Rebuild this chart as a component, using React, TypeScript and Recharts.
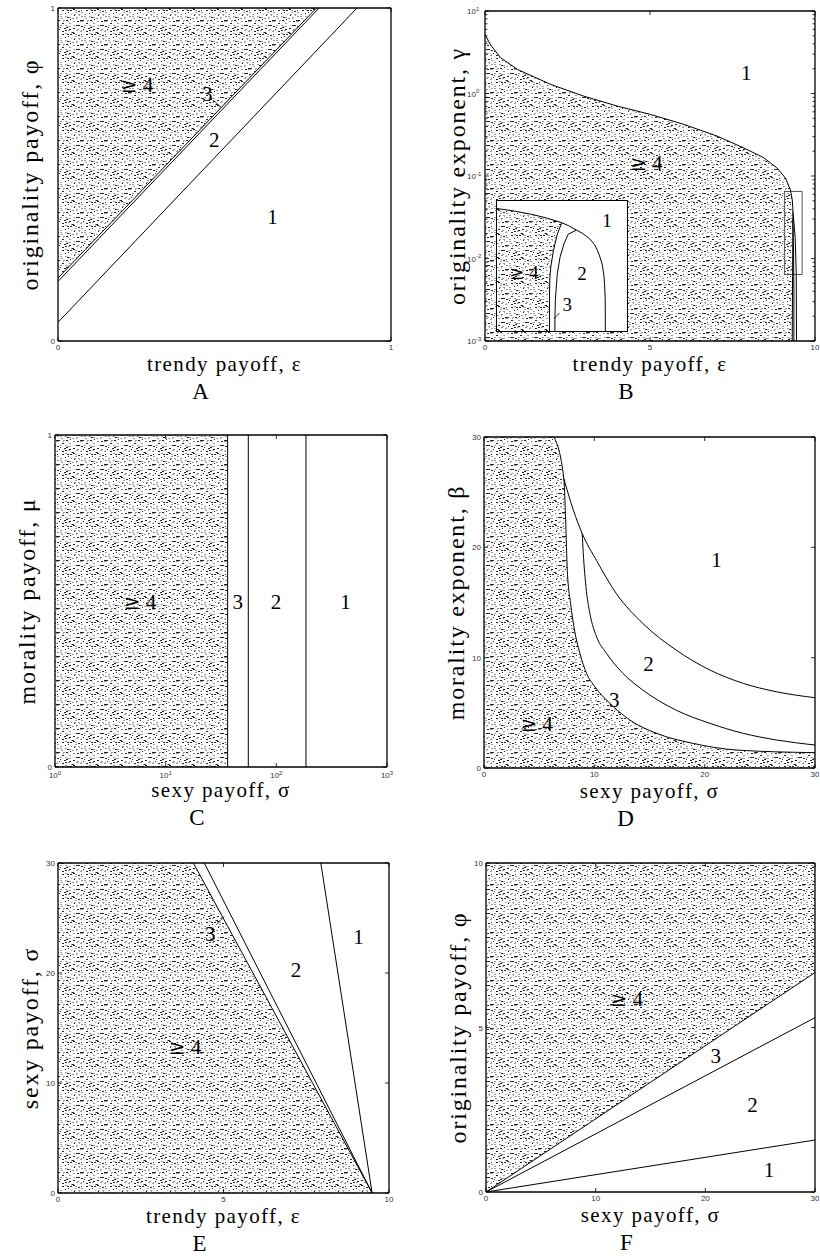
import React from "react";
import {
  ComposedChart, Area, Line, XAxis, YAxis, Label,
  ReferenceDot, ReferenceLine, ReferenceArea,
} from "recharts";

type Pt = { x: number; y: number };
type Note = { x: number; y: number; text: string };

// ---- A: trendy payoff vs originality payoff
const aTicks = [0, 1];
const aEdge4: Pt[] = [{ x: 0, y: 0.189 }, { x: 0.776, y: 1 }];
const aEdge3: Pt[] = [{ x: 0, y: 0.179 }, { x: 0.784, y: 1 }];
const aEdge2: Pt[] = [{ x: 0, y: 0.056 }, { x: 0.898, y: 1 }];
const aLeader: Pt[] = [{ x: 0.466, y: 0.724 }, { x: 0.489, y: 0.702 }];
const aNotes: Note[] = [
  { x: 0.237, y: 0.769, text: "≥ 4" },
  { x: 0.448, y: 0.744, text: "3" },
  { x: 0.469, y: 0.606, text: "2" },
  { x: 0.644, y: 0.373, text: "1" },
];

// ---- B: trendy payoff vs originality exponent (log)
const bXTicks = [0, 5, 10];
const bYDecades = [0.001, 0.01, 0.1, 1, 10];
const logSteps = [1, 2, 3, 4, 5, 6, 7, 8, 9];
const bYMinor = bYDecades
  .slice(0, -1)
  .flatMap((d) => logSteps.map((k) => +(d * k).toPrecision(3)))
  .concat(10);
const bEdge4: Pt[] = [
  { x: 0, y: 5.2 }, { x: 0.17, y: 3.87 }, { x: 0.47, y: 2.72 }, { x: 0.98, y: 1.96 },
  { x: 1.99, y: 1.29 }, { x: 2.99, y: 0.93 }, { x: 4.0, y: 0.705 }, { x: 5.01, y: 0.558 },
  { x: 6.02, y: 0.423 }, { x: 7.03, y: 0.305 }, { x: 7.83, y: 0.22 }, { x: 8.44, y: 0.167 },
  { x: 8.84, y: 0.126 }, { x: 9.1, y: 0.095 }, { x: 9.25, y: 0.069 }, { x: 9.31, y: 0.052 },
  { x: 9.33, y: 0.04 }, { x: 9.33, y: 0.02 }, { x: 9.32, y: 0.006 }, { x: 9.31, y: 0.001 },
];
const bEdge3: Pt[] = [{ x: 9.33, y: 0.03 }, { x: 9.35, y: 0.012 }, { x: 9.36, y: 0.004 }, { x: 9.36, y: 0.001 }];
const bEdge2: Pt[] = [{ x: 9.335, y: 0.036 }, { x: 9.4, y: 0.018 }, { x: 9.43, y: 0.007 }, { x: 9.44, y: 0.001 }];
const bZoom = { x1: 9.08, x2: 9.61, y1: 0.0064, y2: 0.065 };
const bNotes: Note[] = [
  { x: 7.92, y: 1.77, text: "1" },
  { x: 4.89, y: 0.144, text: "≥ 4" },
];

// ---- B inset (magnified corner, relative units)
const insetEdgeTop: Pt[] = [
  { x: 0, y: 94.2 }, { x: 12, y: 92.5 }, { x: 25.8, y: 89.9 }, { x: 38, y: 87 },
  { x: 49.8, y: 83.3 }, { x: 55.5, y: 80.8 }, { x: 61.1, y: 77.6 }, { x: 66, y: 75 },
  { x: 71.2, y: 71 }, { x: 75, y: 66.5 }, { x: 77.3, y: 61.9 }, { x: 79.5, y: 56 },
  { x: 81.1, y: 50.5 }, { x: 82.2, y: 43 }, { x: 82.8, y: 35 }, { x: 83.2, y: 25 },
  { x: 83.3, y: 16 }, { x: 83.3, y: 0 },
];
const insetEdge4: Pt[] = [
  { x: 40.4, y: 0 }, { x: 40.4, y: 30 }, { x: 40.7, y: 42 }, { x: 41.4, y: 49.2 },
  { x: 43.4, y: 61.9 }, { x: 46.4, y: 74.5 }, { x: 49.8, y: 83.3 },
];
const insetEdge3: Pt[] = [
  { x: 44.5, y: 0 }, { x: 44.6, y: 12 }, { x: 44.9, y: 24 }, { x: 46.4, y: 44.2 },
  { x: 48.5, y: 56.8 }, { x: 51.5, y: 67 }, { x: 54.8, y: 74.5 }, { x: 61.1, y: 77.6 },
];
const insetLeader: Pt[] = [{ x: 48, y: 13.9 }, { x: 43.9, y: 9.4 }];
const insetNotes: Note[] = [
  { x: 84.6, y: 85.2, text: "1" },
  { x: 20.7, y: 45.5, text: "≥ 4" },
  { x: 65.4, y: 44.7, text: "2" },
  { x: 54, y: 20.8, text: "3" },
];

// ---- C: sexy payoff (log) vs morality payoff
const cXTicks = [1, 10, 100, 1000];
const cYTicks = [0, 1];
const cEdges = [36.3, 55.8, 185.3];
const cNotes: Note[] = [
  { x: 5.86, y: 0.498, text: "≥ 4" },
  { x: 44.7, y: 0.498, text: "3" },
  { x: 99.2, y: 0.498, text: "2" },
  { x: 422.6, y: 0.498, text: "1" },
];

// ---- D: sexy payoff vs morality exponent
const dTicks = [0, 10, 20, 30];
const dEdge4: Pt[] = [
  { x: 6.34, y: 30 }, { x: 7.24, y: 26.2 }, { x: 7.4, y: 22.5 }, { x: 7.55, y: 17.9 },
  { x: 7.85, y: 14.9 }, { x: 8.15, y: 12.8 }, { x: 8.69, y: 10.4 }, { x: 9.3, y: 8.57 },
  { x: 10.05, y: 7.36 }, { x: 11.41, y: 5.86 }, { x: 13.22, y: 4.35 }, { x: 15.64, y: 3.14 },
  { x: 18.96, y: 2.23 }, { x: 22.88, y: 1.63 }, { x: 30, y: 1.39 },
];
const dEdge3: Pt[] = [
  { x: 8.9, y: 21.25 }, { x: 9.0, y: 19.44 }, { x: 9.24, y: 16.42 }, { x: 9.6, y: 14.0 },
  { x: 10.2, y: 11.9 }, { x: 11.1, y: 10.4 }, { x: 12.6, y: 8.57 }, { x: 14.4, y: 7.06 },
  { x: 17.4, y: 5.25 }, { x: 20.5, y: 4.04 }, { x: 23.5, y: 3.14 }, { x: 26.5, y: 2.54 },
  { x: 30, y: 2.08 },
];
const dEdge2: Pt[] = [
  { x: 7.24, y: 26.2 }, { x: 8.09, y: 23.4 }, { x: 8.9, y: 21.25 },
  { x: 10.2, y: 18.8 }, { x: 12.0, y: 15.8 }, { x: 14.4, y: 13.1 }, { x: 17.4, y: 10.7 },
  { x: 20.5, y: 8.87 }, { x: 23.5, y: 7.67 }, { x: 26.5, y: 6.91 }, { x: 30, y: 6.37 },
];
const dNotes: Note[] = [
  { x: 21.07, y: 18.9, text: "1" },
  { x: 14.9, y: 9.48, text: "2" },
  { x: 11.8, y: 6.16, text: "3" },
  { x: 4.77, y: 4.04, text: "≥ 4" },
];

// ---- E: trendy payoff vs sexy payoff
const eXTicks = [0, 5, 10];
const eYTicks = [0, 10, 20, 30];
const eEdge4: Pt[] = [{ x: 4.09, y: 30 }, { x: 9.49, y: 0 }];
const eEdge3: Pt[] = [{ x: 4.42, y: 30 }, { x: 9.49, y: 0 }];
const eEdge2: Pt[] = [{ x: 7.94, y: 30 }, { x: 9.49, y: 0 }];
const eLeader: Pt[] = [{ x: 4.78, y: 24.39 }, { x: 5.02, y: 25.14 }];
const eNotes: Note[] = [
  { x: 4.6, y: 23.6, text: "3" },
  { x: 7.19, y: 20.3, text: "2" },
  { x: 9.08, y: 23.3, text: "1" },
  { x: 3.84, y: 13.3, text: "≥ 4" },
];

// ---- F: sexy payoff vs originality payoff
const fXTicks = [0, 10, 20, 30];
const fYTicks = [0, 5, 10];
const fEdge4: Pt[] = [{ x: 0, y: 0 }, { x: 30, y: 6.67 }];
const fEdge3: Pt[] = [{ x: 0, y: 0 }, { x: 30, y: 5.3 }];
const fEdge2: Pt[] = [{ x: 0, y: 0 }, { x: 30, y: 1.58 }];
const fNotes: Note[] = [
  { x: 12.83, y: 5.89, text: "≥ 4" },
  { x: 20.96, y: 4.14, text: "3" },
  { x: 24.3, y: 2.65, text: "2" },
  { x: 25.8, y: 0.69, text: "1" },
];

const SERIF = "'Liberation Serif', 'Times New Roman', serif";
const SANS = "'Liberation Sans', Arial, sans-serif";
const BORDER = { stroke: "#000", strokeWidth: 1.3 };
const TICK_STYLE = { fontFamily: SANS, fontSize: 8, fill: "#333" };

// speckle texture: one short dash jittered inside every 3x3 cell of the tile
const TILE = 24;
const CELL = 3;
const stippleDashes = (() => {
  let s = 90731;
  const next = () => (s = (s * 16807) % 2147483647) / 2147483647;
  const out: { x: number; y: number; w: number; c: string }[] = [];
  for (let cy = 0; cy < TILE; cy += CELL) {
    for (let cx = 0; cx < TILE; cx += CELL) {
      out.push({
        x: cx + Math.floor(next() * CELL),
        y: cy + Math.floor(next() * CELL),
        w: next() < 0.7 ? 2 : 1,
        c: next() < 0.4 ? "#222" : "#9a9a9a",
      });
    }
  }
  return out;
})();

function Stipple({ id }: { id: string }) {
  return (
    <pattern id={id} patternUnits="userSpaceOnUse" width={TILE} height={TILE}>
      <rect width={TILE} height={TILE} fill="#fff" />
      {stippleDashes.map((d, i) => (
        <rect key={i} x={d.x} y={d.y} width={d.w} height={1} fill={d.c} />
      ))}
    </pattern>
  );
}

const isDecade = (v: number) => {
  const e = Math.log10(v);
  return Math.abs(e - Math.round(e)) < 1e-6;
};
const expOf = (v: number) => Math.round(Math.log10(v));

function BottomTick({ x, y, payload, log }: any) {
  const v = payload.value as number;
  return (
    <g>
      <line x1={x} x2={x} y1={y} y2={y - 4} stroke="#000" strokeWidth={0.8} />
      {log ? (
        <text x={x} y={y + 11} textAnchor="middle" style={TICK_STYLE}>
          10<tspan dy={-3.5} fontSize={6}>{expOf(v)}</tspan>
        </text>
      ) : (
        <text x={x} y={y + 9} textAnchor="middle" style={TICK_STYLE}>{v}</text>
      )}
    </g>
  );
}

function LeftTick({ x, y, payload, log }: any) {
  const v = payload.value as number;
  const major = !log || isDecade(v);
  return (
    <g>
      <line x1={x} x2={x + (major ? 4 : 2.5)} y1={y} y2={y} stroke="#000" strokeWidth={0.8} />
      {major &&
        (log ? (
          <text x={x - 18} y={y + 3} textAnchor="start" style={TICK_STYLE}>
            10<tspan dy={-3.5} fontSize={6}>{expOf(v)}</tspan>
          </text>
        ) : (
          <text x={x - 3} y={y + 3} textAnchor="end" style={TICK_STYLE}>{v}</text>
        ))}
    </g>
  );
}

function TopTick({ x, y }: any) {
  return <line x1={x} x2={x} y1={y} y2={y + 4} stroke="#000" strokeWidth={0.8} />;
}

function RightTick({ x, y, payload, log }: any) {
  const major = !log || isDecade(payload.value);
  return <line x1={x} x2={x - (major ? 4 : 2.5)} y1={y} y2={y} stroke="#000" strokeWidth={0.8} />;
}

function XTitle({ viewBox, text, letter }: any) {
  const cx = viewBox.x + viewBox.width / 2;
  return (
    <g>
      <text x={cx} y={viewBox.y + 30} textAnchor="middle" fill="#000"
        style={{ fontFamily: SERIF, fontSize: 21, letterSpacing: 1.4 }}>{text}</text>
      <text x={cx - 24} y={viewBox.y + 58} textAnchor="middle" fill="#000"
        style={{ fontFamily: SERIF, fontSize: 23 }}>{letter}</text>
    </g>
  );
}

function YTitle({ viewBox, text }: any) {
  const tx = viewBox.x + viewBox.width - 20;
  const ty = viewBox.y + viewBox.height / 2;
  return (
    <text x={tx} y={ty} transform={`rotate(-90 ${tx} ${ty})`} textAnchor="middle" fill="#000"
      style={{ fontFamily: SERIF, fontSize: 24, letterSpacing: 1.8 }}>{text}</text>
  );
}

// region numbers; the "≥" gets a larger glyph so it sits level with the digit
const noteMarks = (notes: Note[], size = 21) =>
  notes.map((n, i) => (
    <ReferenceDot
      key={`note-${i}`}
      x={n.x}
      y={n.y}
      r={0}
      shape={(p: any) => (
        <text x={p.cx} y={p.cy} dy="0.35em" textAnchor="middle" fill="#000"
          style={{ fontFamily: SERIF, fontSize: size }}>
          {n.text.startsWith("≥") ? (
            <>
              <tspan fontFamily="'DejaVu Serif', serif" fontSize={size * 0.95}>≥</tspan>
              <tspan>{n.text.slice(1)}</tspan>
            </>
          ) : (
            n.text
          )}
        </text>
      )}
    />
  ));

const edgeLine = (key: string, data: Pt[], type: "linear" | "monotone" = "linear") => (
  <Line key={key} data={data} dataKey="y" type={type} stroke="#000" strokeWidth={1}
    dot={false} activeDot={false} isAnimationActive={false} />
);

type PanelProps = {
  id: string;
  left: number;
  top: number;
  height: number;
  margin: { top: number; right: number; bottom: number; left: number };
  xDomain: [number, number];
  yDomain: [number, number];
  xTicks: number[];
  yTicks: number[];
  xLog?: boolean;
  yLog?: boolean;
  xTitle: string;
  yTitle: string;
  letter: string;
  children: React.ReactNode;
};

function Panel(props: PanelProps) {
  const { id, left, top, height, margin, xDomain, yDomain, xTicks, yTicks, xLog, yLog } = props;
  const xScale = xLog ? "log" : "linear";
  const yScale = yLog ? "log" : "linear";
  return (
    <div style={{ position: "absolute", left, top }}>
      <ComposedChart width={410} height={height} margin={margin}>
        <defs>
          <Stipple id={`stipple-${id}`} />
        </defs>
        {props.children}
        <XAxis type="number" dataKey="x" scale={xScale} domain={xDomain} ticks={xTicks} interval={0}
          allowDataOverflow height={1} tickSize={0} tickMargin={0} tickLine={false} axisLine={BORDER}
          tick={(p: any) => <BottomTick {...p} log={xLog} />}>
          <Label content={(p: any) => <XTitle viewBox={p.viewBox} text={props.xTitle} letter={props.letter} />} />
        </XAxis>
        <XAxis xAxisId="top" orientation="top" type="number" dataKey="x" scale={xScale} domain={xDomain}
          ticks={xTicks} interval={0} allowDataOverflow height={1} tickSize={0} tickMargin={0}
          tickLine={false} axisLine={BORDER} tick={(p: any) => <TopTick {...p} />} />
        <YAxis type="number" scale={yScale} domain={yDomain} ticks={yTicks} interval={0}
          allowDataOverflow width={1} tickSize={0} tickMargin={0} tickLine={false} axisLine={BORDER}
          tick={(p: any) => <LeftTick {...p} log={yLog} />}>
          <Label content={(p: any) => <YTitle viewBox={p.viewBox} text={props.yTitle} />} />
        </YAxis>
        <YAxis yAxisId="right" orientation="right" type="number" scale={yScale} domain={yDomain}
          ticks={yTicks} interval={0} allowDataOverflow width={1} tickSize={0} tickMargin={0}
          tickLine={false} axisLine={BORDER} tick={(p: any) => <RightTick {...p} log={yLog} />} />
      </ComposedChart>
    </div>
  );
}

function Inset() {
  const corner = insetEdge4[insetEdge4.length - 1].x;
  const stippleTop = insetEdgeTop.filter((p) => p.x <= corner);
  return (
    <div style={{ position: "absolute", left: 496, top: 200, width: 132, height: 132,
      boxSizing: "border-box", border: "1.2px solid #000", background: "#fff" }}>
      <ComposedChart width={130} height={130} margin={{ top: 0, right: 0, bottom: 0, left: 0 }}>
        <defs>
          <Stipple id="stipple-inset" />
        </defs>
        <XAxis type="number" dataKey="x" domain={[0, 100]} hide allowDataOverflow />
        <YAxis type="number" domain={[0, 100]} hide allowDataOverflow />
        <Area data={stippleTop} dataKey="y" baseValue={0} fill="url(#stipple-inset)" fillOpacity={1}
          stroke="none" isAnimationActive={false} />
        <Area data={insetEdge4} dataKey="y" baseValue={0} fill="#fff" fillOpacity={1}
          stroke="none" isAnimationActive={false} />
        {edgeLine("top", insetEdgeTop)}
        {edgeLine("e4", insetEdge4)}
        {edgeLine("e3", insetEdge3)}
        <ReferenceLine segment={insetLeader} stroke="#000" strokeWidth={0.8} />
        {noteMarks(insetNotes, 19)}
      </ComposedChart>
    </div>
  );
}

export default function App() {
  return (
    <div style={{ position: "absolute", left: 0, top: 0, width: 820, height: 1258, background: "#fff" }}>
      <Panel id="a" left={0} top={0} height={420} margin={{ top: 7, left: 57, right: 18, bottom: 78 }}
        xDomain={[0, 1]} yDomain={[0, 1]} xTicks={aTicks} yTicks={aTicks}
        xTitle="trendy payoff, ε" yTitle="originality payoff, φ" letter="A">
        <Area data={aEdge4} dataKey="y" baseValue={1} fill="url(#stipple-a)" fillOpacity={1}
          stroke="none" isAnimationActive={false} />
        {edgeLine("a4", aEdge4)}
        {edgeLine("a3", aEdge3)}
        {edgeLine("a2", aEdge2)}
        <ReferenceLine segment={aLeader} stroke="#000" strokeWidth={0.8} />
        {noteMarks(aNotes)}
      </Panel>

      <Panel id="b" left={410} top={0} height={420} margin={{ top: 10, left: 74, right: 4, bottom: 78 }}
        xDomain={[0, 10]} yDomain={[0.001, 10]} xTicks={bXTicks} yTicks={bYMinor} yLog
        xTitle="trendy payoff, ε" yTitle="originality exponent, γ" letter="B">
        <Area data={bEdge4} dataKey="y" baseValue={0.001} fill="url(#stipple-b)" fillOpacity={1}
          stroke="none" isAnimationActive={false} />
        {edgeLine("b4", bEdge4)}
        {edgeLine("b3", bEdge3)}
        {edgeLine("b2", bEdge2)}
        <ReferenceArea x1={bZoom.x1} x2={bZoom.x2} y1={bZoom.y1} y2={bZoom.y2}
          fill="none" fillOpacity={0} stroke="#555" strokeWidth={1} />
        {noteMarks(bNotes)}
      </Panel>
      <Inset />

      <Panel id="c" left={0} top={420} height={420} margin={{ top: 14, left: 54, right: 22, bottom: 72 }}
        xDomain={[1, 1000]} yDomain={[0, 1]} xTicks={cXTicks} yTicks={cYTicks} xLog
        xTitle="sexy payoff, σ" yTitle="morality payoff, μ" letter="C">
        <Area data={[{ x: 1, y: 1 }, { x: cEdges[0], y: 1 }]} dataKey="y" baseValue={0}
          fill="url(#stipple-c)" fillOpacity={1} stroke="none" isAnimationActive={false} />
        {cEdges.map((c, i) => edgeLine(`c${i}`, [{ x: c, y: 0 }, { x: c, y: 1 }]))}
        {noteMarks(cNotes)}
      </Panel>

      <Panel id="d" left={410} top={420} height={420} margin={{ top: 16, left: 73, right: 4, bottom: 71 }}
        xDomain={[0, 30]} yDomain={[0, 30]} xTicks={dTicks} yTicks={dTicks}
        xTitle="sexy payoff, σ" yTitle="morality exponent, β" letter="D">
        <Area data={[{ x: 0, y: 30 }, ...dEdge4]} dataKey="y" type="monotone" baseValue={0}
          fill="url(#stipple-d)" fillOpacity={1} stroke="none" isAnimationActive={false} />
        {edgeLine("d4", dEdge4, "monotone")}
        {edgeLine("d3", dEdge3, "monotone")}
        {edgeLine("d2", dEdge2, "monotone")}
        {noteMarks(dNotes)}
      </Panel>

      <Panel id="e" left={0} top={840} height={418} margin={{ top: 22, left: 57, right: 20, bottom: 64 }}
        xDomain={[0, 10]} yDomain={[0, 30]} xTicks={eXTicks} yTicks={eYTicks}
        xTitle="trendy payoff, ε" yTitle="sexy payoff, σ" letter="E">
        <Area data={[{ x: 0, y: 30 }, ...eEdge4]} dataKey="y" baseValue={0}
          fill="url(#stipple-e)" fillOpacity={1} stroke="none" isAnimationActive={false} />
        {edgeLine("e4", eEdge4)}
        {edgeLine("e3", eEdge3)}
        {edgeLine("e2", eEdge2)}
        <ReferenceLine segment={eLeader} stroke="#000" strokeWidth={0.8} />
        {noteMarks(eNotes)}
      </Panel>

      <Panel id="f" left={410} top={840} height={418} margin={{ top: 22, left: 75, right: 4, bottom: 65 }}
        xDomain={[0, 30]} yDomain={[0, 10]} xTicks={fXTicks} yTicks={fYTicks}
        xTitle="sexy payoff, σ" yTitle="originality payoff, φ" letter="F">
        <Area data={fEdge4} dataKey="y" baseValue={10} fill="url(#stipple-f)" fillOpacity={1}
          stroke="none" isAnimationActive={false} />
        {edgeLine("f4", fEdge4)}
        {edgeLine("f3", fEdge3)}
        {edgeLine("f2", fEdge2)}
        {noteMarks(fNotes)}
      </Panel>
    </div>
  );
}
